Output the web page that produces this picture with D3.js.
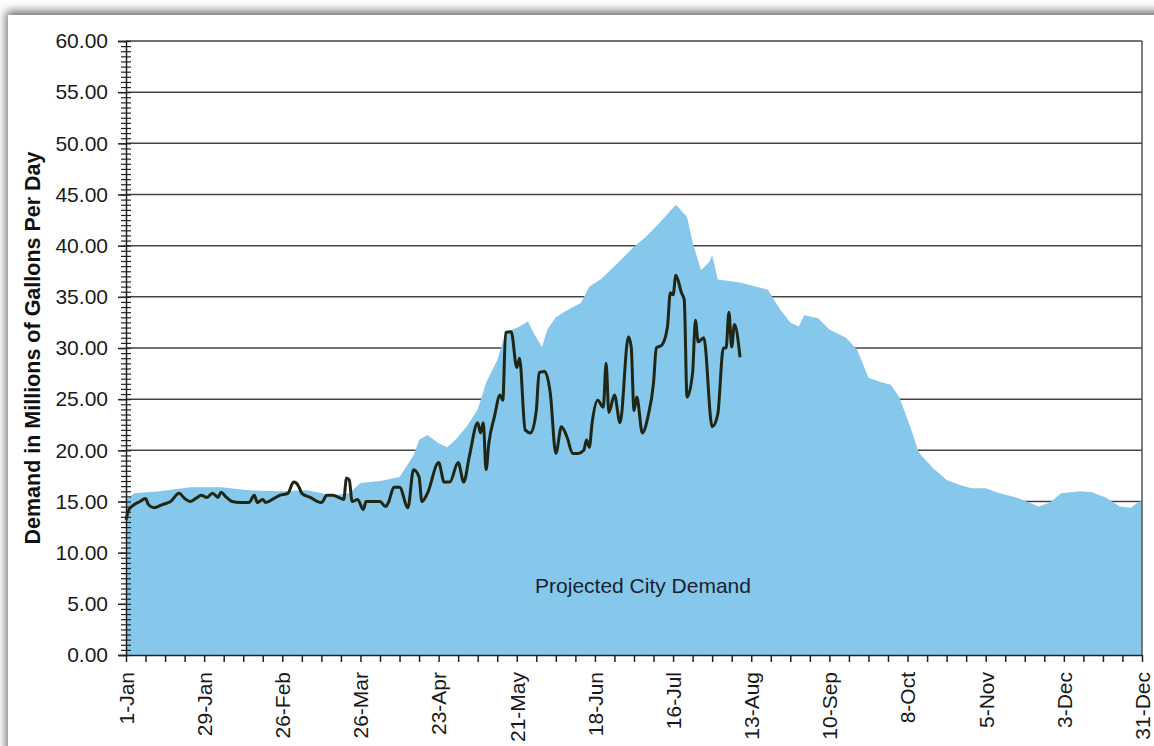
<!DOCTYPE html>
<html>
<head>
<meta charset="utf-8">
<script src="https://cdn.jsdelivr.net/npm/d3@7"></script>
<style>
  html, body { margin: 0; padding: 0; background: #fff; }
  svg { display: block; font-family: "Liberation Sans", Arial, sans-serif; }
</style>
</head>
<body>
<svg id="chart" width="1154" height="746"></svg>
<script>
// 予測需要（面）: 年初からの日数と値
var projectedDays = [0, 3, 12, 23, 34, 44, 55, 65, 74, 80, 84, 91, 98, 103, 105, 108, 112, 115, 118, 122,
  126, 129, 133, 136, 141, 144, 146, 149, 151, 154, 158, 163, 166, 170, 175, 182, 186, 191, 197, 201,
  203, 206, 209, 210, 212, 220, 230, 234, 238, 241, 243, 248, 252, 258, 262, 266, 270, 274, 277, 281,
  284, 289, 294, 299, 303, 308, 313, 320, 327, 331, 335, 342, 346, 351, 356, 360, 363, 364];
var projectedValues = [15.2, 15.8, 16.0, 16.4, 16.4, 16.1, 16.0, 16.1, 15.6, 15.8, 16.8, 17.0, 17.4, 19.5, 21.0, 21.5, 20.7, 20.3, 21.0, 22.3,
  24.0, 26.6, 28.8, 31.5, 32.1, 32.6, 31.5, 30.1, 31.8, 33.0, 33.7, 34.4, 36.0, 36.7, 38.0, 39.9, 40.8, 42.2, 44.0, 42.8,
  40.3, 37.6, 38.4, 39.1, 36.7, 36.4, 35.7, 33.9, 32.5, 32.1, 33.2, 32.9, 31.8, 31.0, 29.8, 27.1, 26.7, 26.4, 25.2, 22.3,
  19.8, 18.3, 17.1, 16.6, 16.3, 16.3, 15.8, 15.3, 14.5, 14.9, 15.8, 16.0, 15.9, 15.4, 14.5, 14.4, 15.0, 15.0];

// 実績需要（線）
var actualDays = [0, 1, 3, 5, 7, 8, 10, 13, 16, 19, 21, 23, 25, 27, 29, 31, 33, 34, 36, 38,
  41, 44, 46, 47, 49, 50, 53, 55, 58, 60, 61, 62, 63, 66, 70, 72, 74, 77, 78, 79,
  80, 81, 83, 85, 86, 88, 91, 93, 94, 96, 98, 101, 103, 105, 106, 108, 112, 114, 116, 119,
  121, 123, 126, 127, 128, 129, 130, 132, 134, 135, 136, 138, 140, 141, 143, 145, 147, 148, 150, 152,
  154, 156, 158, 160, 162, 164, 165, 166, 167, 169, 171, 172, 173, 175, 177, 180, 181, 182, 183, 185,
  187, 189, 190, 192, 194, 195, 196, 197, 199, 200, 201, 203, 204, 205, 207, 210, 212, 214, 215, 216,
  217, 218, 220];
var actualValues = [13.2, 14.2, 14.7, 15.0, 15.3, 14.7, 14.4, 14.7, 15.0, 15.8, 15.3, 15.0, 15.3, 15.6, 15.4, 15.8, 15.4, 15.9, 15.4, 15.0,
  14.9, 14.9, 15.6, 14.9, 15.2, 14.9, 15.3, 15.6, 15.8, 16.9, 16.8, 16.4, 15.8, 15.4, 14.9, 15.6, 15.6, 15.3, 15.2, 17.3,
  17.1, 15.0, 15.2, 14.2, 15.0, 15.0, 15.0, 14.5, 14.9, 16.4, 16.4, 14.4, 18.1, 17.4, 15.0, 15.8, 18.8, 16.9, 16.9, 18.8,
  16.9, 19.4, 22.7, 21.7, 22.7, 18.1, 20.7, 23.3, 25.4, 24.9, 31.5, 31.6, 28.1, 29.0, 22.0, 21.7, 23.9, 27.6, 27.7, 25.6,
  19.7, 22.3, 21.3, 19.7, 19.7, 20.0, 21.0, 20.3, 22.7, 24.9, 24.2, 28.5, 23.7, 25.4, 22.7, 31.1, 30.1, 23.9, 25.2, 21.7,
  23.3, 26.6, 30.0, 30.3, 32.1, 35.4, 35.2, 37.1, 35.4, 34.7, 25.2, 27.6, 32.7, 30.6, 31.0, 22.3, 23.5, 30.0, 30.0, 33.5,
  30.1, 32.3, 29.1];

var xTickLabels = ["1-Jan", "29-Jan", "26-Feb", "26-Mar", "23-Apr", "21-May", "18-Jun", "16-Jul",
  "13-Aug", "10-Sep", "8-Oct", "5-Nov", "3-Dec", "31-Dec"];
var yTicks = [0, 5, 10, 15, 20, 25, 30, 35, 40, 45, 50, 55, 60];

var yearStart = new Date(2007, 0, 1);
var yearEnd = new Date(2007, 11, 31);
function toDate(d) { return d3.timeDay.offset(yearStart, d); }

// 描画範囲
var plotLeft = 126, plotRight = 1142, plotTop = 41, plotBottom = 655;

var svg = d3.select("#chart");

// 影付きのパネル
var defs = svg.append("defs");
var f = defs.append("filter").attr("id", "shadow")
    .attr("x", "-5%").attr("y", "-5%").attr("width", "110%").attr("height", "110%");
f.append("feDropShadow").attr("dx", -2).attr("dy", -4).attr("stdDeviation", 5)
    .attr("flood-color", "#606060").attr("flood-opacity", 0.9);
svg.append("rect").attr("x", 0).attr("y", 0).attr("width", 1154).attr("height", 746).attr("fill", "#fff");
svg.append("rect").attr("x", 8).attr("y", 15).attr("width", 1200).attr("height", 800)
    .attr("fill", "#fff").attr("filter", "url(#shadow)");

var x = d3.scaleTime().domain([yearStart, yearEnd]).range([plotLeft, plotRight]);
var y = d3.scaleLinear().domain([0, 60]).range([plotBottom, plotTop]);

// 横の罫線
svg.append("g").selectAll("line")
    .data(yTicks.filter(function (v) { return v > 0; }))
    .enter().append("line")
    .attr("x1", plotLeft).attr("x2", plotRight)
    .attr("y1", function (d) { return y(d); })
    .attr("y2", function (d) { return y(d); })
    .attr("stroke", "#444")
    .attr("stroke-width", 1.5);

// 面
var area = d3.area()
    .x(function (d) { return x(toDate(d[0])); })
    .y0(y(0))
    .y1(function (d) { return y(d[1]); });
svg.append("path")
    .datum(d3.zip(projectedDays, projectedValues))
    .attr("d", area)
    .attr("fill", "#86c7ec");

// 右の枠線
svg.append("line")
    .attr("x1", plotRight).attr("x2", plotRight).attr("y1", plotTop).attr("y2", plotBottom)
    .attr("stroke", "#555").attr("stroke-width", 1.5);

// 実績の線
var line = d3.line()
    .x(function (d) { return x(toDate(d[0])); })
    .y(function (d) { return y(d[1]); })
    .curve(d3.curveMonotoneX);
svg.append("path")
    .datum(d3.zip(actualDays, actualValues))
    .attr("d", line)
    .attr("fill", "none")
    .attr("stroke", "#1f2714")
    .attr("stroke-width", 3)
    .attr("stroke-linejoin", "round");

// Y軸 (細かい目盛り)
var minorY = d3.range(0, 60.01, 0.5);
svg.append("g")
    .attr("transform", "translate(" + (plotLeft + 5) + ",0)")
    .call(d3.axisLeft(y).tickValues(minorY).tickSize(10).tickFormat(""))
    .call(function (g) { g.select(".domain").remove(); })
    .selectAll("line").attr("stroke", "#222").attr("stroke-width", 1.2);

var yAxis = svg.append("g")
    .attr("transform", "translate(" + plotLeft + ",0)")
    .call(d3.axisLeft(y).tickValues(yTicks).tickSize(8).tickPadding(10).tickFormat(d3.format(".2f")));
yAxis.select(".domain").attr("stroke", "#222").attr("stroke-width", 1.5);
yAxis.selectAll("line").attr("stroke", "#222").attr("stroke-width", 1.5);
yAxis.selectAll("text")
    .attr("font-size", "21px")
    .attr("font-family", "Liberation Sans, Arial, sans-serif")
    .attr("fill", "#1a1a1a");

// X軸 (週ごと)
var weeks = d3.timeMonday.range(yearStart, d3.timeDay.offset(yearEnd, 1));
var fmt = d3.timeFormat("%-d-%b");
var xAxis = svg.append("g")
    .attr("transform", "translate(0," + plotBottom + ")")
    .call(d3.axisBottom(x).tickValues(weeks).tickSize(7).tickSizeOuter(0)
        .tickFormat(function (d) { var s = fmt(d); return xTickLabels.indexOf(s) >= 0 ? s : ""; }));
xAxis.select(".domain").attr("stroke", "#222").attr("stroke-width", 1.5);
xAxis.selectAll("line").attr("stroke", "#222").attr("stroke-width", 1.5);
xAxis.selectAll("text")
    .attr("font-size", "21px")
    .attr("font-family", "Liberation Sans, Arial, sans-serif")
    .attr("fill", "#1a1a1a")
    .attr("text-anchor", "end")
    .attr("transform", "rotate(-90)")
    .attr("x", -17)
    .attr("y", 0)
    .attr("dy", "0.35em");

// Y軸タイトル
svg.append("text")
    .attr("transform", "translate(40," + 348 + ") rotate(-90)")
    .attr("text-anchor", "middle")
    .attr("font-size", "21.5px")
    .attr("font-weight", "bold")
    .attr("fill", "#111")
    .text("Demand in Millions of Gallons Per Day");

// 面のラベル
svg.append("text")
    .attr("x", 643)
    .attr("y", 593)
    .attr("text-anchor", "middle")
    .attr("font-size", "21px")
    .attr("fill", "#1b1f2e")
    .text("Projected City Demand");
</script>
</body>
</html>
